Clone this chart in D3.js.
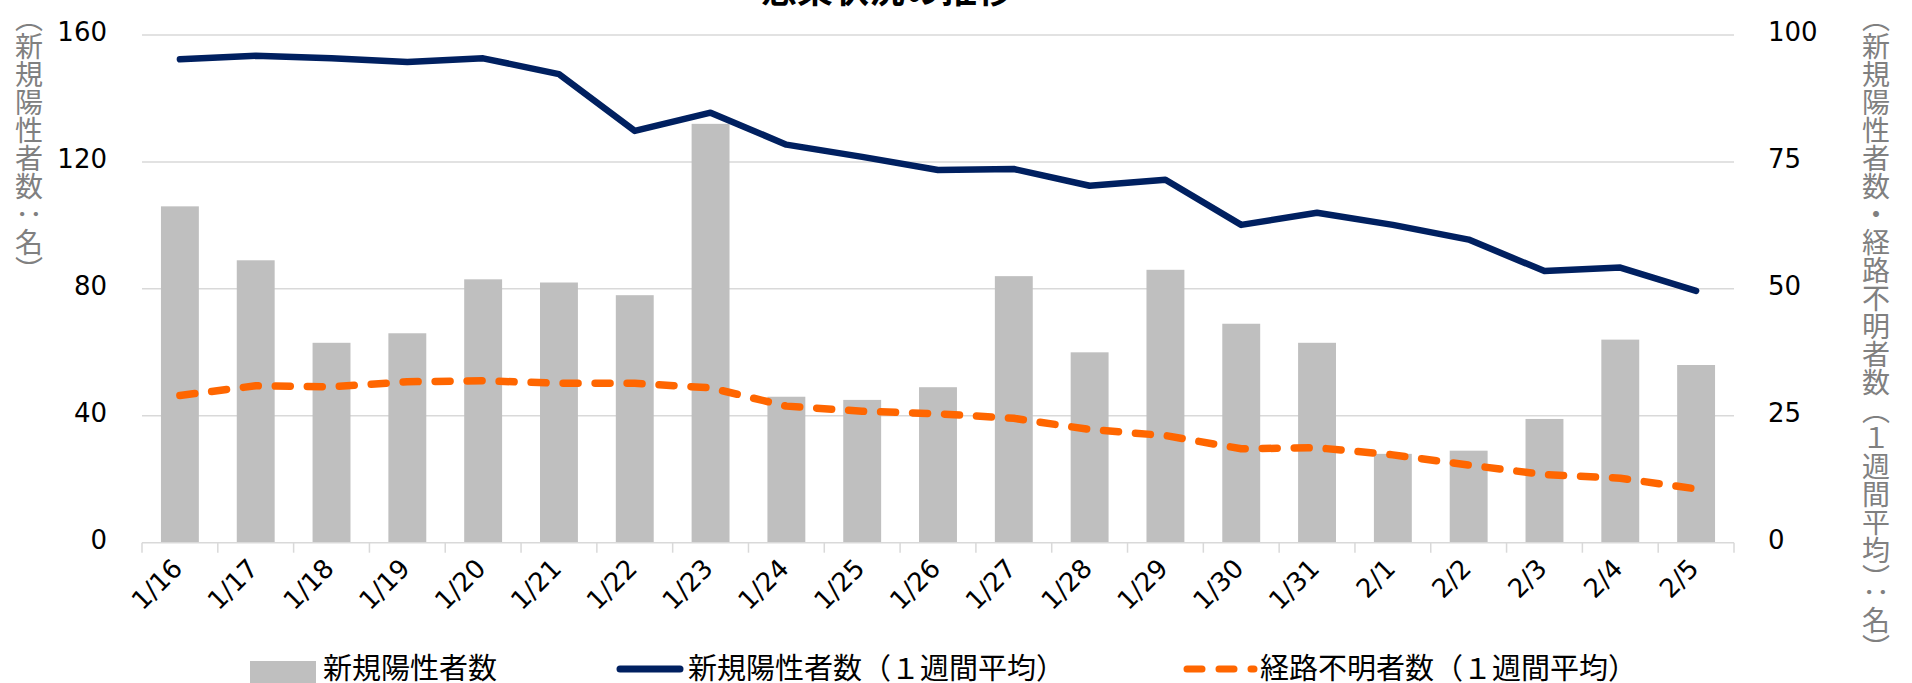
<!DOCTYPE html>
<html>
<head>
<meta charset="utf-8">
<script src="https://cdn.jsdelivr.net/npm/d3@7"></script>
<style>
	body { margin: 0; background: #fff; }
	svg { display: block; }
</style>
</head>
<body>
<svg id="chart" width="1912" height="683"></svg>
<script>
	const dates = ["1/16","1/17","1/18","1/19","1/20","1/21","1/22","1/23","1/24","1/25","1/26",
		"1/27","1/28","1/29","1/30","1/31","2/1","2/2","2/3","2/4","2/5"];

	// 新規陽性者数 (left axis)
	const newCases = [106, 89, 63, 66, 83, 82, 78, 132, 46, 45, 49, 84, 60, 86, 69, 63, 28, 29, 39, 64, 56];

	// 1週間平均 (right axis)
	const newCasesAvg = [95.2, 95.9, 95.4, 94.7, 95.4, 92.3, 81.1, 84.7, 78.4, 76.0, 73.4,
		73.6, 70.3, 71.5, 62.6, 65.0, 62.6, 59.7, 53.5, 54.2, 49.6];
	const unknownAvg = [29.0, 30.9, 30.7, 31.7, 31.9, 31.4, 31.4, 30.5, 26.9, 25.9, 25.4,
		24.5, 22.3, 21.1, 18.5, 18.7, 17.3, 15.3, 13.4, 12.7, 10.6];

	const leftTicks = [0, 40, 80, 120, 160];
	const rightTicks = [0, 25, 50, 75, 100];

	const title = "感染状況の推移";
	const leftTitle = "（新規陽性者数：名）";
	const rightTitle = "（新規陽性者数・経路不明者数（１週間平均）：名）";
	const legendLabels = ["新規陽性者数", "新規陽性者数（１週間平均）", "経路不明者数（１週間平均）"];

	const svg = d3.select("#chart");
	const numFont = "'DejaVu Sans', Verdana, sans-serif",
		jpFont = "'Noto Sans CJK JP', sans-serif";

	const plot = {left: 142, right: 1734, top: 35, bottom: 542.7};

	let x = d3.scaleBand()
		.domain(dates)
		.range([plot.left, plot.right])
		.paddingInner(0.5)
		.paddingOuter(0.25);

	let yL = d3.scaleLinear().domain([0, 160]).range([plot.bottom, plot.top]);
	let yR = d3.scaleLinear().domain([0, 100]).range([plot.bottom, plot.top]);

	const cx = d => x(d) + x.bandwidth() / 2;

	// gridlines
	svg.append("g").selectAll("line")
		.data(leftTicks.slice(1))
		.join("line")
		.attr("x1", plot.left).attr("x2", plot.right)
		.attr("y1", d => yL(d)).attr("y2", d => yL(d))
		.attr("stroke", "#d9d9d9")
		.attr("stroke-width", 1.5);

	// bars
	svg.append("g").selectAll("rect")
		.data(newCases)
		.join("rect")
		.attr("x", (d, i) => x(dates[i]))
		.attr("y", d => yL(d))
		.attr("width", x.bandwidth())
		.attr("height", d => yL(0) - yL(d))
		.attr("fill", "#bfbfbf");

	// x axis line + ticks between categories
	svg.append("line")
		.attr("x1", plot.left).attr("x2", plot.right)
		.attr("y1", plot.bottom).attr("y2", plot.bottom)
		.attr("stroke", "#d9d9d9")
		.attr("stroke-width", 1.5);

	svg.append("g").selectAll("line")
		.data(d3.range(dates.length + 1))
		.join("line")
		.attr("x1", i => plot.left + i * x.step())
		.attr("x2", i => plot.left + i * x.step())
		.attr("y1", plot.bottom).attr("y2", plot.bottom + 10)
		.attr("stroke", "#d9d9d9")
		.attr("stroke-width", 1.5);

	// x labels
	svg.append("g").selectAll("text")
		.data(dates)
		.join("text")
		.attr("transform", d => "translate(" + (cx(d) + 4) + "," + 570 + ") rotate(-45)")
		.attr("text-anchor", "end")
		.attr("font-family", numFont)
		.attr("font-size", 26)
		.attr("fill", "#000")
		.text(d => d);

	// y tick labels
	svg.append("g").selectAll("text")
		.data(leftTicks)
		.join("text")
		.attr("x", 107)
		.attr("y", d => yL(d) - 3)
		.attr("dy", "0.36em")
		.attr("text-anchor", "end")
		.attr("font-family", numFont)
		.attr("font-size", 26)
		.text(d => d);

	svg.append("g").selectAll("text")
		.data(rightTicks)
		.join("text")
		.attr("x", 1768)
		.attr("y", d => yR(d) - 3)
		.attr("dy", "0.36em")
		.attr("font-family", numFont)
		.attr("font-size", 26)
		.text(d => d);

	// lines
	const lineDrawer = d3.line()
		.x((d, i) => cx(dates[i]))
		.y(d => yR(d));

	svg.append("path")
		.datum(newCasesAvg)
		.attr("fill", "none")
		.attr("stroke", "#002060")
		.attr("stroke-width", 6.5)
		.attr("stroke-linejoin", "round")
		.attr("stroke-linecap", "round")
		.attr("d", lineDrawer);

	svg.append("path")
		.datum(unknownAvg)
		.attr("fill", "none")
		.attr("stroke", "#ff6600")
		.attr("stroke-width", 7.5)
		.attr("stroke-linejoin", "round")
		.attr("stroke-linecap", "round")
		.attr("stroke-dasharray", "15,17")
		.attr("d", lineDrawer);

	// title (cut at the top edge)
	svg.append("text")
		.attr("x", 887)
		.attr("y", 3)
		.attr("text-anchor", "middle")
		.attr("font-family", jpFont)
		.attr("font-weight", "bold")
		.attr("font-size", 36)
		.text(title);

	// axis titles, vertical
	svg.append("text")
		.attr("x", 29)
		.attr("y", 4)
		.attr("writing-mode", "vertical-rl")
		.attr("font-family", jpFont)
		.attr("font-size", 28)
		.attr("fill", "#808080")
		.text(leftTitle);

	svg.append("text")
		.attr("x", 1876)
		.attr("y", 4)
		.attr("writing-mode", "vertical-rl")
		.attr("font-family", jpFont)
		.attr("font-size", 28)
		.attr("fill", "#808080")
		.text(rightTitle);

	// legend
	const legend = svg.append("g");
	legend.append("rect")
		.attr("x", 250).attr("y", 661)
		.attr("width", 66).attr("height", 24)
		.attr("fill", "#bfbfbf");
	legend.append("line")
		.attr("x1", 620).attr("x2", 680)
		.attr("y1", 669).attr("y2", 669)
		.attr("stroke", "#002060")
		.attr("stroke-width", 7)
		.attr("stroke-linecap", "round");
	legend.append("line")
		.attr("x1", 1187).attr("x2", 1254)
		.attr("y1", 669).attr("y2", 669)
		.attr("stroke", "#ff6600")
		.attr("stroke-width", 7)
		.attr("stroke-linecap", "round")
		.attr("stroke-dasharray", "15,17");

	legend.selectAll("text.lbl")
		.data(legendLabels)
		.join("text")
		.attr("class", "lbl")
		.attr("x", (d, i) => [323, 688, 1260][i])
		.attr("y", 669)
		.attr("dy", "0.36em")
		.attr("font-family", jpFont)
		.attr("font-size", 29)
		.text(d => d);
</script>
</body>
</html>
